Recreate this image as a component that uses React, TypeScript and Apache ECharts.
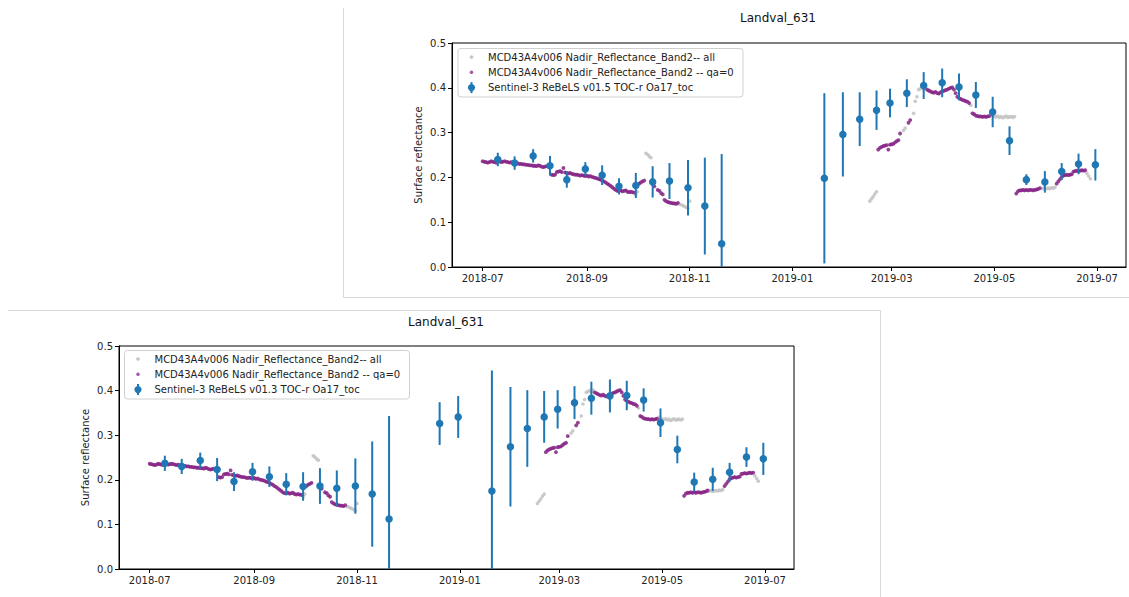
import React, { useEffect, useRef } from "react";
import * as echarts from "echarts";

// ---- MODIS MCD43A4 v006 Nadir reflectance, band 2 (daily) ----
// qa flag per day: 1 = qa=0 (good quality), 0 = other
const band2SummerStart = "2018-07-01";
const band2Summer = [
  0.236, 0.235, 0.234, 0.233, 0.234, 0.236, 0.235, 0.234, 0.233, 0.235,
  0.236, 0.234, 0.235, 0.236, 0.235, 0.234, 0.233, 0.234, 0.232, 0.231,
  0.232, 0.231, 0.230, 0.230, 0.229, 0.229, 0.228, 0.228, 0.227, 0.227,
  0.226, 0.226, 0.225, 0.227, 0.226, 0.224, 0.223, 0.224, 0.225, 0.224,
  0.223, 0.206, 0.205, 0.206, 0.212, 0.213, 0.214, 0.212, 0.221, 0.211,
  0.210, 0.209, 0.210, 0.208, 0.207, 0.206, 0.206, 0.205, 0.204, 0.205,
  0.204, 0.203, 0.204, 0.202, 0.203, 0.201, 0.200, 0.199, 0.198, 0.196,
  0.195, 0.193, 0.191, 0.189, 0.186, 0.184, 0.181, 0.178, 0.175, 0.172,
  0.170, 0.170, 0.171, 0.169, 0.170, 0.171, 0.168, 0.167, 0.168, 0.167,
  0.166, 0.162, 0.168, 0.186, 0.189, 0.191, 0.193, 0.254, 0.251, 0.247,
  0.244, 0.186, 0.180, null, 0.172, 0.170, 0.165, 0.162, 0.150, 0.147,
  0.145, 0.144, 0.143, 0.142, 0.142, 0.141, 0.143, 0.140, 0.139, 0.137,
  0.135, 0.133, 0.131, 0.147,
];
const band2SummerQa = [
  1, 1, 1, 1, 1, 1, 1, 1, 1, 1,
  1, 1, 1, 1, 1, 1, 1, 1, 1, 1,
  1, 1, 1, 1, 1, 1, 1, 1, 1, 1,
  1, 1, 1, 1, 1, 1, 1, 1, 1, 1,
  1, 1, 1, 1, 1, 1, 1, 1, 1, 1,
  1, 1, 1, 1, 1, 1, 1, 1, 1, 1,
  1, 1, 1, 1, 1, 1, 1, 1, 1, 1,
  1, 1, 1, 1, 1, 1, 1, 1, 1, 1,
  1, 1, 1, 1, 1, 1, 1, 1, 1, 1,
  1, 0, 0, 1, 1, 1, 1, 0, 0, 0,
  0, 1, 1, 1, 1, 1, 1, 1, 1, 1,
  1, 1, 1, 1, 1, 1, 1, 0, 0, 0,
  0, 0, 0, 0,
];

const band2SpringStart = "2019-02-16";
const band2Spring = [
  0.147, 0.152, 0.157, 0.163, 0.168, 0.262, 0.266, 0.268, 0.270, 0.271,
  0.272, 0.262, 0.273, 0.274, 0.275, 0.278, 0.281, 0.283, 0.298, null,
  0.305, 0.310, null, 0.322, 0.328, null, 0.343, 0.370, 0.380, 0.396,
  0.398, 0.400, 0.398, 0.401, 0.396, 0.394, 0.392, 0.390, 0.389, 0.391,
  0.388, 0.387, 0.390, 0.392, 0.393, 0.395, 0.396, 0.398, 0.400, 0.401,
  0.396, 0.388, 0.380, 0.377, 0.375, 0.373, 0.372, 0.370, 0.369, 0.366,
  0.361, 0.343, 0.341, 0.338, 0.337, 0.336, 0.336, 0.335, 0.336, 0.335,
  0.336, 0.337, 0.340, 0.338, 0.336, 0.335, 0.337, 0.334, 0.336, 0.333,
  0.335, 0.337, 0.334, 0.335, 0.336, 0.334, 0.336, 0.164, 0.169, 0.171,
  0.171, 0.172, 0.171, 0.172, 0.171, 0.172, 0.172, 0.171, 0.172, 0.173,
  0.174, 0.176, 0.175, 0.176, 0.174, 0.175, 0.176, 0.175, 0.177, 0.176,
  0.178, 0.186, 0.191, 0.196, 0.201, 0.204, 0.205, 0.206, 0.205, 0.206,
  0.207, 0.213, 0.214, 0.215, 0.214, 0.215, 0.216, 0.215, 0.216, 0.209,
  0.203, 0.197,
];
const band2SpringQa = [
  0, 0, 0, 0, 0, 1, 1, 1, 1, 1,
  1, 1, 1, 1, 1, 1, 1, 1, 1, 0,
  0, 0, 0, 1, 1, 0, 0, 0, 0, 0,
  0, 0, 0, 0, 1, 1, 1, 1, 1, 1,
  1, 1, 1, 1, 1, 1, 1, 1, 1, 1,
  1, 1, 1, 1, 1, 1, 1, 1, 1, 1,
  0, 1, 1, 1, 1, 1, 1, 1, 1, 1,
  1, 1, 0, 0, 0, 0, 0, 0, 0, 0,
  0, 0, 0, 0, 0, 0, 0, 1, 1, 1,
  1, 1, 1, 1, 1, 1, 1, 1, 1, 1,
  1, 1, 0, 0, 0, 0, 0, 0, 0, 0,
  0, 1, 1, 1, 1, 1, 1, 1, 1, 1,
  1, 1, 1, 1, 1, 1, 1, 1, 1, 0,
  0, 0,
];

// ---- Sentinel-3 ReBeLS TOC-r Oa17 (dekadal, value ± uncertainty) ----
const v015Dates = [
  "2018-07-10", "2018-07-20", "2018-07-31", "2018-08-10", "2018-08-20", "2018-08-31",
  "2018-09-10", "2018-09-20", "2018-09-30", "2018-10-10", "2018-10-20", "2018-10-31",
  "2018-11-10", "2018-11-20", "2019-01-20", "2019-01-31", "2019-02-10", "2019-02-20",
  "2019-02-28", "2019-03-10", "2019-03-20", "2019-03-31", "2019-04-10", "2019-04-20",
  "2019-04-30", "2019-05-10", "2019-05-20", "2019-05-31", "2019-06-10", "2019-06-20",
  "2019-06-30",
];
const v015Values = [
  0.240, 0.232, 0.248, 0.226, 0.195, 0.219, 0.205, 0.180, 0.182, 0.190, 0.192, 0.177,
  0.136, 0.052, 0.198, 0.296, 0.330, 0.350, 0.366, 0.388, 0.405, 0.411, 0.402, 0.384,
  0.346, 0.282, 0.195, 0.190, 0.213, 0.230, 0.228,
];
const v015Errors = [
  0.015, 0.015, 0.015, 0.022, 0.018, 0.015, 0.022, 0.018, 0.028, 0.035, 0.040, 0.062,
  0.108, 0.200, 0.190, 0.094, 0.060, 0.044, 0.032, 0.031, 0.030, 0.032, 0.030, 0.029,
  0.034, 0.032, 0.012, 0.024, 0.019, 0.023, 0.035,
];

const v013Dates = [
  "2018-07-10", "2018-07-20", "2018-07-31", "2018-08-10", "2018-08-20", "2018-08-31",
  "2018-09-10", "2018-09-20", "2018-09-30", "2018-10-10", "2018-10-20", "2018-10-31",
  "2018-11-10", "2018-11-20", "2018-12-20", "2018-12-31", "2019-01-20", "2019-01-31",
  "2019-02-10", "2019-02-20", "2019-02-28", "2019-03-10", "2019-03-20", "2019-03-31",
  "2019-04-10", "2019-04-20", "2019-04-30", "2019-05-10", "2019-05-20", "2019-05-31",
  "2019-06-10", "2019-06-20", "2019-06-30",
];
const v013Values = [
  0.237, 0.230, 0.243, 0.223, 0.196, 0.218, 0.207, 0.190, 0.185, 0.186, 0.181, 0.186,
  0.168, 0.112, 0.326, 0.341, 0.175, 0.274, 0.315, 0.341, 0.358, 0.373, 0.383, 0.388,
  0.389, 0.379, 0.328, 0.268, 0.195, 0.201, 0.217, 0.251, 0.247,
];
const v013Errors = [
  0.017, 0.017, 0.018, 0.026, 0.021, 0.020, 0.023, 0.025, 0.032, 0.040, 0.040, 0.062,
  0.118, 0.231, 0.048, 0.047, 0.270, 0.134, 0.086, 0.058, 0.043, 0.037, 0.037, 0.037,
  0.033, 0.026, 0.032, 0.031, 0.021, 0.026, 0.021, 0.022, 0.036,
];

const tickMonths = [
  "2018-07-01", "2018-09-01", "2018-11-01", "2019-01-01",
  "2019-03-01", "2019-05-01", "2019-07-01",
];
const yTicks = [0, 0.1, 0.2, 0.3, 0.4, 0.5];

const TITLE = "Landval_631";
const Y_NAME = "Surface reflectance";
const LEGEND_ALL = "MCD43A4v006 Nadir_Reflectance_Band2-- all";
const LEGEND_QA0 = "MCD43A4v006 Nadir_Reflectance_Band2 -- qa=0";
const legendS3 = (ver: string) => `Sentinel-3 ReBeLS ${ver} TOC-r Oa17_toc`;

const DAY = 86400000;
const FONT = "DejaVu Sans";
const BLUE = "#1f77b4";
const PURPLE = "#882288";
const GREY = "#c4c4c4";
const Y_MIN = yTicks[0];
const Y_MAX = yTicks[yTicks.length - 1];

const utc = (s: string) => {
  const [y, m, d] = s.split("-").map(Number);
  return Date.UTC(y, m - 1, d);
};

function dailyPoints(start: string, values: (number | null)[], qa: number[], goodOnly: boolean) {
  const t0 = utc(start);
  const out: number[][] = [];
  values.forEach((v, i) => {
    if (v === null) return;
    if (goodOnly && qa[i] !== 1) return;
    out.push([t0 + i * DAY, v]);
  });
  return out;
}

const allPoints = [
  ...dailyPoints(band2SummerStart, band2Summer, band2SummerQa, false),
  ...dailyPoints(band2SpringStart, band2Spring, band2SpringQa, false),
];
const goodPoints = [
  ...dailyPoints(band2SummerStart, band2Summer, band2SummerQa, true),
  ...dailyPoints(band2SpringStart, band2Spring, band2SpringQa, true),
];

const errPoints = (dates: string[], vals: number[], errs: number[]) =>
  dates.map((d, i) => [utc(d), vals[i], errs[i]]);

// x range padded by 5% like the plotting default
const dataStart = utc("2018-07-01");
const dataEnd = utc("2019-06-30");
const pad = (dataEnd - dataStart) * 0.05;
const X_MIN = dataStart - pad;
const X_MAX = dataEnd + pad;

const monthLabel = (v: number) => {
  const d = new Date(v);
  return `${d.getUTCFullYear()}-${String(d.getUTCMonth() + 1).padStart(2, "0")}`;
};

const panels = [
  { grid: { left: 452, top: 43, width: 674, height: 224 }, version: "v01.5",
    err: errPoints(v015Dates, v015Values, v015Errors),
    title: [778, 18], yName: [418, 155], legend: [458, 48.5] },
  { grid: { left: 119, top: 346, width: 675, height: 223 }, version: "v01.3",
    err: errPoints(v013Dates, v013Values, v013Errors),
    title: [446, 321.5], yName: [85, 457.5], legend: [124.5, 350.5] },
];

function legendBox(x0: number, y0: number, ver: string) {
  const rows = [y0 + 8.5, y0 + 23.7, y0 + 39.1];
  const mx = x0 + 13.5;
  const tx = x0 + 30;
  const text = (y: number, s: string) => ({
    type: "text", x: tx, y, silent: true,
    style: { text: s, font: `10px "${FONT}"`, fill: "#222", textAlign: "left", textVerticalAlign: "middle" },
  });
  return [
    { type: "rect", shape: { x: x0, y: y0, width: 285, height: 48.5, r: 3 },
      style: { fill: "rgba(255,255,255,0.85)", stroke: "#d0d0d0", lineWidth: 1 }, z: 50 },
    { type: "circle", shape: { cx: mx, cy: rows[0], r: 1.8 }, style: { fill: GREY }, z: 51 },
    { type: "circle", shape: { cx: mx, cy: rows[1], r: 1.8 }, style: { fill: PURPLE, opacity: 0.75 }, z: 51 },
    { type: "line", shape: { x1: mx, y1: rows[2] - 5.5, x2: mx, y2: rows[2] + 5.5 },
      style: { stroke: BLUE, lineWidth: 2 }, z: 51 },
    { type: "circle", shape: { cx: mx, cy: rows[2], r: 3.6 }, style: { fill: BLUE }, z: 51 },
    { ...text(rows[0], LEGEND_ALL), z: 51 },
    { ...text(rows[1], LEGEND_QA0), z: 51 },
    { ...text(rows[2], legendS3(ver)), z: 51 },
  ];
}

export default function App() {
  const ref = useRef<HTMLDivElement>(null);

  useEffect(() => {
    if (!ref.current) return;
    const chart = echarts.init(ref.current, undefined, { renderer: "svg" });

    const monthTs = tickMonths.map(utc);

    const option: any = {
      animation: false,
      backgroundColor: "#ffffff",
      textStyle: { fontFamily: FONT },
      grid: panels.map((p) => ({
        ...p.grid, show: true, borderColor: "#000", borderWidth: 1, containLabel: false,
      })),
      xAxis: panels.map((_, i) => ({
        type: "value", gridIndex: i, min: X_MIN, max: X_MAX,
        axisLine: { show: true, onZero: false, lineStyle: { color: "#000", width: 1 } },
        axisTick: { show: true, length: 4, customValues: monthTs, lineStyle: { color: "#000" } },
        axisLabel: {
          show: true, customValues: monthTs, formatter: monthLabel, margin: 6,
          color: "#222", fontSize: 10, fontFamily: FONT,
        },
        splitLine: { show: false },
      })),
      yAxis: panels.map((_, i) => ({
        type: "value", gridIndex: i, min: Y_MIN, max: Y_MAX, interval: 0.1,
        axisLine: { show: true, onZero: false, lineStyle: { color: "#000", width: 1 } },
        axisTick: { show: true, length: 4, lineStyle: { color: "#000" } },
        axisLabel: {
          formatter: (v: number) => v.toFixed(1), margin: 6,
          color: "#222", fontSize: 10, fontFamily: FONT,
        },
        splitLine: { show: false },
      })),
      series: panels.flatMap((p, i) => [
        {
          name: LEGEND_ALL, type: "scatter", xAxisIndex: i, yAxisIndex: i,
          data: allPoints, symbolSize: 3.6, silent: true,
          itemStyle: { color: GREY, opacity: 0.9 }, z: 2,
        },
        {
          name: LEGEND_QA0, type: "scatter", xAxisIndex: i, yAxisIndex: i,
          data: goodPoints, symbolSize: 3.8, silent: true,
          itemStyle: { color: PURPLE, opacity: 0.8 }, z: 3,
        },
        {
          name: legendS3(p.version) + " err", type: "custom", xAxisIndex: i, yAxisIndex: i,
          data: p.err, silent: true, z: 4,
          encode: { x: 0, y: 1 },
          renderItem: (_params: any, api: any) => {
            const x = api.value(0);
            const y = api.value(1);
            const e = api.value(2);
            const lo = api.coord([x, Math.max(Y_MIN, y - e)]);
            const hi = api.coord([x, Math.min(Y_MAX, y + e)]);
            return {
              type: "line",
              shape: { x1: lo[0], y1: lo[1], x2: hi[0], y2: hi[1] },
              style: { stroke: BLUE, lineWidth: 2 },
            };
          },
        },
        {
          name: legendS3(p.version), type: "scatter", xAxisIndex: i, yAxisIndex: i,
          data: p.err.map((d) => [d[0], d[1]]), symbolSize: 7.5, silent: true,
          itemStyle: { color: BLUE, opacity: 1 }, z: 5,
        },
      ]),
      graphic: [
        // panel frames
        { type: "line", shape: { x1: 343.5, y1: 8, x2: 343.5, y2: 297.5 }, style: { stroke: "#d8d8d8", lineWidth: 1 } },
        { type: "line", shape: { x1: 343.5, y1: 297.5, x2: 1129, y2: 297.5 }, style: { stroke: "#d8d8d8", lineWidth: 1 } },
        { type: "line", shape: { x1: 8, y1: 310.5, x2: 880.5, y2: 310.5 }, style: { stroke: "#d8d8d8", lineWidth: 1 } },
        { type: "line", shape: { x1: 880.5, y1: 310.5, x2: 880.5, y2: 597 }, style: { stroke: "#d8d8d8", lineWidth: 1 } },
        ...panels.flatMap((p) => [
          {
            type: "text", x: p.title[0], y: p.title[1], silent: true,
            style: { text: TITLE, font: `12px "${FONT}"`, fill: "#111", textAlign: "center", textVerticalAlign: "middle" },
          },
          {
            type: "text", x: p.yName[0], y: p.yName[1], rotation: Math.PI / 2, silent: true,
            style: { text: Y_NAME, font: `10px "${FONT}"`, fill: "#222", textAlign: "center", textVerticalAlign: "middle" },
          },
          ...legendBox(p.legend[0], p.legend[1], p.version),
        ]),
      ],
    };

    chart.setOption(option);
    return () => chart.dispose();
  }, []);

  return (
    <div
      ref={ref}
      style={{ position: "absolute", left: 0, top: 0, width: 1129, height: 597 }}
    />
  );
}
